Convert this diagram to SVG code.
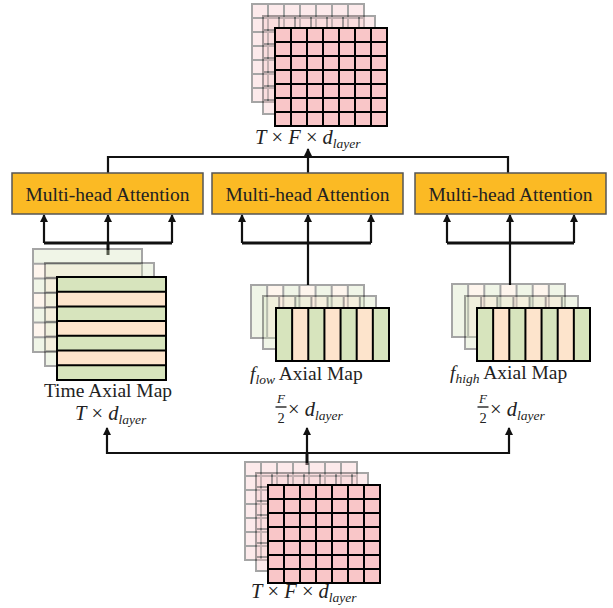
<svg xmlns="http://www.w3.org/2000/svg" width="613" height="608" viewBox="0 0 613 608">
  <defs>
    <style>
      .lbl { font-family: "Liberation Serif", "Times New Roman", serif; font-size: 19.5px; fill: #222; }
      .math { font-family: "Liberation Serif", "Times New Roman", serif; font-size: 20.5px; fill: #222; }
      .it { font-style: italic; }
      .sub { font-style: italic; font-size: 13.5px; }
      .box { fill: #fbba24; stroke: #555; stroke-width: 1.5; }
      .conn { fill: none; stroke: #111; stroke-width: 2.2; }
      .bar { fill: none; stroke: #111; stroke-width: 3; }
      .pink { fill: #f9c6c8; }
      .green { fill: #d7e4bd; }
      .peach { fill: #fde4cc; }
      .front { stroke: #000; stroke-width: 2; }
      .ghost { opacity: 0.35; }
      .ghost .front { stroke: #777; stroke-width: 1.6; }
      .frac { font-family: "Liberation Serif", "Times New Roman", serif; fill: #222; }
    </style>
    <marker id="arr" markerUnits="userSpaceOnUse" markerWidth="8" markerHeight="10" refX="7" refY="4" orient="auto">
      <path d="M0,0 L8,4 L0,8 Z" fill="#111"/>
    </marker>

    <!-- 7x7 pink feature grid, 112 x 98 -->
    <g id="pinkGrid">
      <rect class="pink" x="0" y="0" width="112" height="98"/>
      <path class="front" fill="none" d="M0,0 H112 V98 H0 Z M16,0 V98 M32,0 V98 M48,0 V98 M64,0 V98 M80,0 V98 M96,0 V98 M0,14 H112 M0,28 H112 M0,42 H112 M0,56 H112 M0,70 H112 M0,84 H112"/>
    </g>

    <!-- row-striped time map, 109 x 103 -->
    <g id="rowMap">
      <rect class="green" x="0" y="0" width="109" height="14.7"/>
      <rect class="peach" x="0" y="14.7" width="109" height="14.7"/>
      <rect class="green" x="0" y="29.4" width="109" height="14.7"/>
      <rect class="peach" x="0" y="44.1" width="109" height="14.7"/>
      <rect class="green" x="0" y="58.8" width="109" height="14.7"/>
      <rect class="peach" x="0" y="73.5" width="109" height="14.7"/>
      <rect class="green" x="0" y="88.2" width="109" height="14.8"/>
      <path class="front" fill="none" d="M0,0 H109 V103 H0 Z M0,14.7 H109 M0,29.4 H109 M0,44.1 H109 M0,58.8 H109 M0,73.5 H109 M0,88.2 H109"/>
    </g>

    <!-- column-striped frequency map, 113 x 53 -->
    <g id="colMap">
      <rect class="green" x="0" y="0" width="16.14" height="53"/>
      <rect class="peach" x="16.14" y="0" width="16.14" height="53"/>
      <rect class="green" x="32.28" y="0" width="16.14" height="53"/>
      <rect class="peach" x="48.42" y="0" width="16.14" height="53"/>
      <rect class="green" x="64.56" y="0" width="16.14" height="53"/>
      <rect class="peach" x="80.7" y="0" width="16.14" height="53"/>
      <rect class="green" x="96.84" y="0" width="16.16" height="53"/>
      <path class="front" fill="none" d="M0,0 H113 V53 H0 Z M16.14,0 V53 M32.28,0 V53 M48.42,0 V53 M64.56,0 V53 M80.7,0 V53 M96.84,0 V53"/>
    </g>
  </defs>

  <rect width="613" height="608" fill="#fff"/>

  <!-- connectors -->
  <g id="connectors">
    <!-- heads merge into output -->
    <path class="conn" d="M108,174 V157 H508 V174" stroke-width="2.6"/>
    <path class="conn" d="M308,174 V157"/>
    <path class="conn" d="M308,157 V149" marker-end="url(#arr)"/>

    <!-- time branch -->
    <path class="bar" d="M44,243 H172"/>
    <path class="conn" d="M44,243 V215" marker-end="url(#arr)"/>
    <path class="conn" d="M108,243 V215" marker-end="url(#arr)"/>
    <path class="conn" d="M172,243 V215" marker-end="url(#arr)"/>
    <path class="bar" d="M108,242 V255"/>

    <!-- low-frequency branch -->
    <path class="bar" d="M242,243 H371"/>
    <path class="conn" d="M242,243 V215" marker-end="url(#arr)"/>
    <path class="conn" d="M308,243 V215" marker-end="url(#arr)"/>
    <path class="conn" d="M371,243 V215" marker-end="url(#arr)"/>
    <path class="conn" d="M308,242 V285"/>

    <!-- high-frequency branch -->
    <path class="bar" d="M447,243 H574"/>
    <path class="conn" d="M447,243 V215" marker-end="url(#arr)"/>
    <path class="conn" d="M510,243 V215" marker-end="url(#arr)"/>
    <path class="conn" d="M574,243 V215" marker-end="url(#arr)"/>
    <path class="conn" d="M510,242 V285"/>

    <!-- input split -->
    <path class="conn" d="M107,453 H509" stroke-width="2.6"/>
    <path class="conn" d="M107,454 V428" marker-end="url(#arr)"/>
    <path class="conn" d="M307,454 V428" marker-end="url(#arr)"/>
    <path class="conn" d="M509,454 V428" marker-end="url(#arr)"/>
    <path class="bar" d="M307,453 V465"/>
  </g>

  <!-- output feature map -->
  <g id="output">
    <use href="#pinkGrid" class="ghost" x="252" y="4"/>
    <use href="#pinkGrid" class="ghost" x="263" y="16"/>
    <use href="#pinkGrid" x="275" y="28"/>
    <text class="math" x="255" y="144"><tspan class="it">T</tspan> × <tspan class="it">F</tspan> × <tspan class="it">d</tspan><tspan class="sub" dy="4">layer</tspan></text>
  </g>

  <!-- attention heads -->
  <g id="attn-time">
    <rect class="box" x="12" y="173" width="191" height="41"/>
    <text class="lbl" x="107.5" y="201" text-anchor="middle">Multi-head Attention</text>
  </g>
  <g id="attn-low">
    <rect class="box" x="212" y="173" width="191" height="41"/>
    <text class="lbl" x="307.5" y="201" text-anchor="middle">Multi-head Attention</text>
  </g>
  <g id="attn-high">
    <rect class="box" x="415" y="173" width="191" height="41"/>
    <text class="lbl" x="510.5" y="201" text-anchor="middle">Multi-head Attention</text>
  </g>

  <!-- time axial map -->
  <g id="time-map">
    <use href="#rowMap" class="ghost" x="33" y="249"/>
    <use href="#rowMap" class="ghost" x="45" y="263"/>
    <use href="#rowMap" x="57" y="277"/>
    <text class="lbl" x="108" y="397" text-anchor="middle">Time Axial Map</text>
    <text class="math" x="75" y="420"><tspan class="it">T</tspan> × <tspan class="it">d</tspan><tspan class="sub" dy="4">layer</tspan></text>
  </g>

  <!-- low-frequency axial map -->
  <g id="low-map">
    <use href="#colMap" class="ghost" x="251" y="285"/>
    <use href="#colMap" class="ghost" x="263" y="296"/>
    <use href="#colMap" x="276" y="308"/>
    <text class="lbl" x="250" y="380"><tspan class="it">f</tspan><tspan class="sub" dy="4">low</tspan><tspan dy="-4"> Axial Map</tspan></text>
    <text class="frac it" x="281" y="403" font-size="13" text-anchor="middle">F</text>
    <path d="M275.5,407 H286.5" stroke="#222" stroke-width="1.4"/>
    <text class="frac" x="281" y="423" font-size="14.5" text-anchor="middle">2</text>
    <text class="math" x="288" y="416">× <tspan class="it">d</tspan><tspan class="sub" dy="4">layer</tspan></text>
  </g>

  <!-- high-frequency axial map -->
  <g id="high-map">
    <use href="#colMap" class="ghost" x="452" y="284"/>
    <use href="#colMap" class="ghost" x="465" y="296"/>
    <use href="#colMap" x="477" y="308"/>
    <text class="lbl" x="450" y="379"><tspan class="it">f</tspan><tspan class="sub" dy="4">high</tspan><tspan dy="-4"> Axial Map</tspan></text>
    <text class="frac it" x="483" y="403" font-size="13" text-anchor="middle">F</text>
    <path d="M477.5,407 H488.5" stroke="#222" stroke-width="1.4"/>
    <text class="frac" x="483" y="423" font-size="14.5" text-anchor="middle">2</text>
    <text class="math" x="490" y="416">× <tspan class="it">d</tspan><tspan class="sub" dy="4">layer</tspan></text>
  </g>

  <!-- input feature map -->
  <g id="input">
    <use href="#pinkGrid" class="ghost" x="245" y="462"/>
    <use href="#pinkGrid" class="ghost" x="256" y="473"/>
    <use href="#pinkGrid" x="268" y="485"/>
    <text class="math" x="251" y="598"><tspan class="it">T</tspan> × <tspan class="it">F</tspan> × <tspan class="it">d</tspan><tspan class="sub" dy="4">layer</tspan></text>
  </g>
</svg>
